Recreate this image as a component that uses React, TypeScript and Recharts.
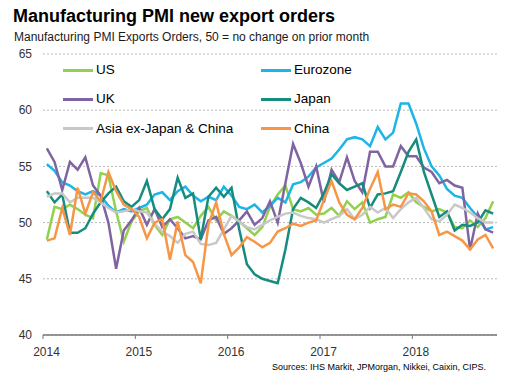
import React from 'react';
import { LineChart, Line, XAxis, YAxis, CartesianGrid } from 'recharts';

// Monthly data, Jan 2014 .. Nov 2018
const monthNames = ['Jan','Feb','Mar','Apr','May','Jun','Jul','Aug','Sep','Oct','Nov','Dec'];
const years = ['2014','2015','2016','2017','2018'];
const monthCount = 59;

const yearTicks = [0, 12, 24, 36, 48];
const yTicks = [40, 45, 50, 55, 60, 65];

const us = [
  48.5, 51.4, 51.2, 51.6, 51.2, 50.7, 50.4, 54.4, 54.2, 51.0, 48.3, 50.1,
  51.0, 51.3, 49.8, 48.9, 50.3, 50.5, 50.0, 49.5, 50.6, 51.4, 50.2, 51.0,
  50.6, 50.1, 49.5, 48.9, 49.6, 51.4, 52.5, 53.3, 51.2, 51.0, 51.3, 50.7,
  50.8, 51.3, 50.6, 51.9, 51.2, 51.8, 50.0, 50.3, 50.5, 52.5, 52.2, 52.7,
  51.8, 51.4, 51.0, 51.2, 50.9, 49.6, 49.5, 50.2, 49.6, 50.4, 51.9,
];
const eurozone = [
  55.2, 54.6, 53.6, 53.3, 52.8, 52.5, 52.8, 52.4, 51.5, 50.9, 51.2, 51.0,
  51.3, 51.6, 52.5, 52.7, 52.0, 52.8, 53.2, 52.4, 51.9, 52.3, 52.0, 53.2,
  52.4, 51.4, 51.2, 51.6, 50.9, 51.5, 52.2, 51.8, 53.4, 53.6, 54.1, 54.9,
  55.3, 55.7, 56.5, 57.4, 57.6, 57.4, 56.8, 58.5, 57.4, 58.0, 60.6, 60.6,
  58.8, 56.6, 55.0, 54.2, 53.0, 52.4, 52.2, 51.3, 50.5, 49.4, 49.6,
];
const uk = [
  56.6, 55.4, 52.9, 55.4, 54.7, 55.8, 53.3, 52.4, 50.0, 45.9, 49.3, 50.2,
  51.3, 49.8, 51.2, 49.6, 50.3, 49.5, 48.6, 48.8, 48.5, 50.2, 50.5, 49.0,
  49.5, 50.2, 51.0, 49.8, 50.4, 51.9, 50.0, 53.5, 57.0, 55.3, 53.2, 55.0,
  51.8, 54.7, 53.6, 55.8, 53.7, 52.7, 56.3, 56.3, 55.0, 55.0, 56.8, 55.9,
  55.9, 54.9, 54.5, 53.5, 53.8, 53.3, 53.1, 47.6, 50.8, 49.4, 49.1,
];
const japan = [
  52.8, 51.8, 52.5, 49.1, 49.1, 49.5, 50.8, 51.8, 52.6, 53.2, 51.9, 51.4,
  52.0, 53.7, 51.2, 50.3, 51.2, 54.0, 52.2, 52.6, 48.5, 52.3, 53.1, 52.3,
  53.1, 49.4, 46.3, 45.4, 45.0, 44.8, 44.6, 47.6, 51.2, 52.2, 51.8, 51.3,
  52.6, 54.3, 53.5, 52.9, 53.2, 53.5, 51.3, 52.5, 52.6, 52.8, 54.5, 56.3,
  57.4, 54.5, 52.5, 50.5, 51.0, 49.3, 49.8, 49.7, 50.0, 51.1, 50.8,
];
const asiaExJapanChina = [
  52.3, 52.6, 52.6, 51.8, 52.2, 52.2, 52.2, 51.8, 51.3, 50.9, 51.0, 51.2,
  51.0, 50.9, 49.9, 49.2, 48.8, 48.2, 49.0, 49.2, 48.1, 48.0, 48.2, 49.4,
  50.6, 50.1, 49.6, 49.4, 49.8, 50.2, 50.5, 50.8, 50.9, 50.6, 50.4, 50.3,
  50.0, 50.3, 50.6, 51.2, 50.3, 50.7, 51.4, 50.9, 51.3, 50.4, 51.2, 51.8,
  52.2, 51.3, 50.3, 50.1, 50.7, 51.6, 51.3, 50.9, 50.4, 50.0, 50.0,
];
const china = [
  48.4, 48.6, 51.3, 48.9, 53.1, 50.8, 52.7, 51.9, 54.5, 52.8, 51.6, 51.2,
  50.5, 48.6, 50.0, 50.3, 46.7, 50.1, 47.1, 46.5, 44.6, 49.8, 51.8, 49.0,
  47.1, 47.8, 48.7, 48.3, 47.8, 48.2, 49.2, 49.5, 49.9, 49.7, 50.0, 50.2,
  52.0, 53.7, 51.8, 50.7, 50.3, 51.3, 53.0, 54.5, 51.2, 51.6, 51.4, 52.6,
  52.5, 51.9, 51.0, 48.9, 49.2, 48.8, 48.4, 47.6, 48.5, 48.9, 47.7,
];

const series = [
  { key: 'us', name: 'US', color: '#92D050', values: us },
  { key: 'eurozone', name: 'Eurozone', color: '#1DB4E8', values: eurozone },
  { key: 'uk', name: 'UK', color: '#8064A2', values: uk },
  { key: 'japan', name: 'Japan', color: '#158C7E', values: japan },
  { key: 'asia', name: 'Asia ex-Japan & China', color: '#C8C8C8', values: asiaExJapanChina },
  { key: 'china', name: 'China', color: '#F79646', values: china },
];

const data = Array.from({ length: monthCount }, (_, i) => {
  const row: Record<string, any> = {
    t: i + 0.5,
    month: monthNames[i % 12] + ' ' + years[Math.floor(i / 12)],
  };
  series.forEach((s) => {
    row[s.key] = s.values[i];
  });
  return row;
});

const FONT = '"Liberation Sans", Arial, sans-serif';

const XTick = (props: any) => {
  const { x, y, payload } = props;
  const label = years[Math.round(payload.value / 12)];
  return (
    <text x={x + 3.5} y={y} dy="0.71em" textAnchor="middle" fill="#333333" fontSize={12} fontFamily={FONT}>
      {label}
    </text>
  );
};

const YTick = (props: any) => {
  const { x, y, payload } = props;
  return (
    <text x={x} y={y} dy="0.355em" textAnchor="end" fill="#333333" fontSize={12} fontFamily={FONT}>
      {payload.value}
    </text>
  );
};

const legendCols = [63, 261];
const legendRows = [70, 99, 128.5];

export default function App() {
  return (
    <div
      style={{
        position: 'absolute',
        left: 0,
        top: 0,
        width: 517,
        height: 388,
        background: '#ffffff',
        fontFamily: FONT,
        overflow: 'hidden',
      }}
    >
      <LineChart
        width={517}
        height={388}
        data={data}
        margin={{ top: 54, right: 20, bottom: 23, left: 8 }}
      >
        <CartesianGrid vertical={false} stroke="#b8b8b8" strokeDasharray="2 2" />
        <XAxis
          dataKey="t"
          type="number"
          domain={[0, 59]}
          ticks={yearTicks}
          tick={<XTick />}
          tickSize={4}
          tickMargin={8}
          height={30}
          axisLine={{ stroke: '#767676', strokeWidth: 1.5 }}
          tickLine={{ stroke: '#767676', strokeWidth: 1 }}
          allowDataOverflow
        />
        <YAxis
          type="number"
          domain={[40, 65]}
          ticks={yTicks}
          width={35}
          axisLine={false}
          tickLine={false}
          tickSize={6}
          tickMargin={5}
          tick={<YTick />}
          interval={0}
        />
        {series.map((s) => (
          <Line
            key={s.key}
            type="linear"
            dataKey={s.key}
            name={s.name}
            stroke={s.color}
            strokeWidth={2.5}
            dot={false}
            activeDot={false}
            isAnimationActive={false}
          />
        ))}
      </LineChart>

      <div
        style={{
          position: 'absolute',
          left: 13,
          top: 7,
          fontSize: 18,
          lineHeight: '18px',
          fontWeight: 'bold',
          color: '#000',
          whiteSpace: 'nowrap',
        }}
      >
        Manufacturing PMI new export orders
      </div>
      <div
        style={{
          position: 'absolute',
          left: 14,
          top: 31,
          fontSize: 12,
          lineHeight: '12px',
          color: '#1a1a1a',
          whiteSpace: 'nowrap',
        }}
      >
        Manufacturing PMI Exports Orders, 50 = no change on prior month
      </div>

      {series.map((s, i) => {
        const col = i % 2;
        const row = Math.floor(i / 2);
        return (
          <div
            key={s.key}
            style={{
              position: 'absolute',
              left: legendCols[col],
              top: legendRows[row] - 9,
              height: 18,
              display: 'flex',
              alignItems: 'center',
              whiteSpace: 'nowrap',
            }}
          >
            <div style={{ width: 30, height: 3, background: s.color }} />
            <span style={{ marginLeft: 3, fontSize: 13.5, color: '#000', lineHeight: '18px' }}>{s.name}</span>
          </div>
        );
      })}

      <div
        style={{
          position: 'absolute',
          right: 31,
          top: 362,
          fontSize: 9,
          lineHeight: '10px',
          color: '#000',
          whiteSpace: 'nowrap',
        }}
      >
        Sources: IHS Markit, JPMorgan, Nikkei, Caixin, CIPS.
      </div>
    </div>
  );
}
